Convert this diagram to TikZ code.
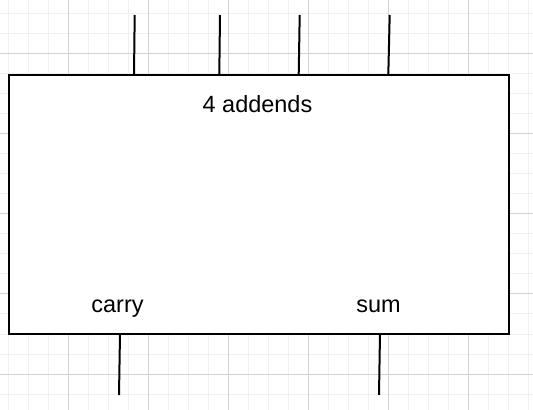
\documentclass[tikz,border=0pt]{standalone}
\usepackage{fontspec}
\setmainfont{Liberation Sans}
\definecolor{gridminor}{RGB}{240,240,240}
\definecolor{gridmajor}{RGB}{210,210,210}
\begin{document}
\begin{tikzpicture}[x=0.75pt,y=-0.75pt,
  minorline/.style={draw=gridminor,line width=0.75pt},
  majorline/.style={draw=gridmajor,line width=0.75pt},
  blockbox/.style={draw=black,fill=white,line width=1.5pt,rectangle,inner sep=0pt,
    minimum width=375pt,minimum height=194.25pt},
  wire/.style={draw=black,line width=1.5pt},
  lbl/.style={inner sep=0pt,anchor=base,font=\fontsize{17.6}{20}\selectfont}]
\useasboundingbox (0,0) rectangle (533,410);
\fill[white] (0,0) rectangle (533,410);
% grid
\foreach \gx in {8,28,...,528} \draw[minorline] (\gx,0) -- (\gx,410);
\foreach \gy in {14,34,...,394} \draw[minorline] (0,\gy) -- (533,\gy);
\foreach \gx in {68,148,...,468} \draw[majorline] (\gx,0) -- (\gx,410);
\foreach \gy in {54,134,...,374} \draw[majorline] (0,\gy) -- (533,\gy);
% block
\node[blockbox] (box) at (259,204.5) {};
\node[lbl] (addends) at (257.5,113) {4 addends};
\node[lbl] (carry) at (117.5,312) {carry};
\node[lbl] (sum) at (378.5,312) {sum};
% input wires
\coordinate (i1) at (134.7,15);
\coordinate (i2) at (220,15);
\coordinate (i3) at (299.7,15);
\coordinate (i4) at (389.7,15);
\coordinate (b1) at (134,75);
\coordinate (b2) at (219.3,75);
\coordinate (b3) at (298.7,75);
\coordinate (b4) at (388.3,75);
\draw[wire] (i1) -- (b1);
\draw[wire] (i2) -- (b2);
\draw[wire] (i3) -- (b3);
\draw[wire] (i4) -- (b4);
% output wires
\coordinate (c1) at (120,334);
\coordinate (c2) at (119,395);
\coordinate (s1) at (380,334);
\coordinate (s2) at (379,395);
\draw[wire] (c1) -- (c2);
\draw[wire] (s1) -- (s2);
\end{tikzpicture}
\end{document}
